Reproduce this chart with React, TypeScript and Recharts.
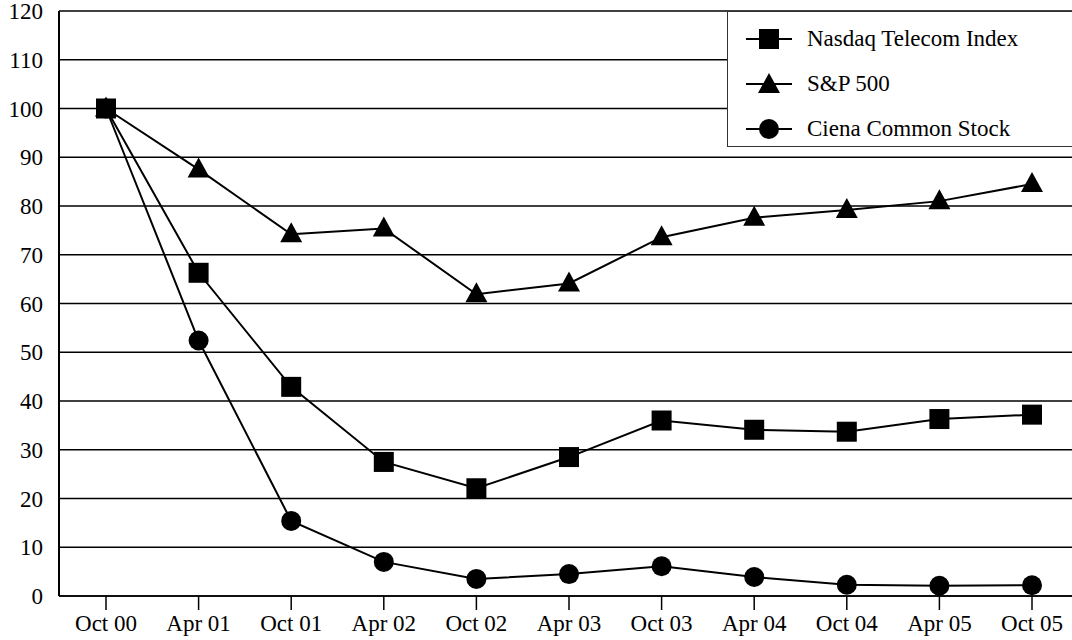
import React from 'react';
import { LineChart, Line, XAxis, YAxis, CartesianGrid } from 'recharts';

const periods = ['Oct 00', 'Apr 01', 'Oct 01', 'Apr 02', 'Oct 02', 'Apr 03', 'Oct 03', 'Apr 04', 'Oct 04', 'Apr 05', 'Oct 05'];
const nasdaq = [100, 66.3, 42.9, 27.5, 22.1, 28.5, 36.0, 34.1, 33.7, 36.3, 37.2];
const sp500 = [100, 87.5, 74.2, 75.4, 61.9, 64.1, 73.6, 77.6, 79.2, 81.0, 84.5];
const ciena = [100, 52.4, 15.4, 7.0, 3.5, 4.5, 6.1, 3.9, 2.3, 2.1, 2.2];
const yTicks = [0, 10, 20, 30, 40, 50, 60, 70, 80, 90, 100, 110, 120];

const data = periods.map((p, i) => ({ period: p, nasdaq: nasdaq[i], sp500: sp500[i], ciena: ciena[i] }));

const FONT = 'Liberation Serif';

const SquareDot = (props: any) => {
  const { cx, cy, index } = props;
  if (cx == null || cy == null) return null;
  return <rect key={`sq-${index}`} x={cx - 10} y={cy - 10} width={20} height={20} fill="#000" />;
};

const TriangleDot = (props: any) => {
  const { cx, cy, index } = props;
  if (cx == null || cy == null) return null;
  return <polygon key={`tr-${index}`} points={`${cx},${cy - 12} ${cx + 11},${cy + 8} ${cx - 11},${cy + 8}`} fill="#000" />;
};

const CircleDot = (props: any) => {
  const { cx, cy, index } = props;
  if (cx == null || cy == null) return null;
  return <circle key={`ci-${index}`} cx={cx} cy={cy} r={10} fill="#000" />;
};

const legendItems = [
  { name: 'Nasdaq Telecom Index', shape: 'square' },
  { name: 'S&P 500', shape: 'triangle' },
  { name: 'Ciena Common Stock', shape: 'circle' },
];

const LegendIcon = ({ shape }: { shape: string }) => (
  <svg width={46} height={24} style={{ display: 'block' }}>
    <line x1={0} y1={12} x2={46} y2={12} stroke="#000" strokeWidth={2} />
    {shape === 'square' && <rect x={13} y={2} width={20} height={20} fill="#000" />}
    {shape === 'triangle' && <polygon points="23,1 34,21 12,21" fill="#000" />}
    {shape === 'circle' && <circle cx={23} cy={12} r={10} fill="#000" />}
  </svg>
);

export default function App() {
  return (
    <div style={{ position: 'absolute', left: 0, top: 0, width: 1072, height: 640, background: '#fff', overflow: 'hidden', fontFamily: FONT }}>
      <LineChart width={1072} height={640} data={data} margin={{ top: 11, right: 0, left: 0, bottom: 0 }}>
        <CartesianGrid vertical={false} stroke="#000" strokeWidth={1.5} />
        <XAxis
          dataKey="period"
          padding={{ left: 47, right: 40 }}
          height={44}
          tickSize={14}
          tickMargin={5}
          stroke="#000"
          strokeWidth={1.5}
          tick={{ fill: '#000', fontSize: 23, fontFamily: FONT }}
          interval={0}
        />
        <YAxis
          domain={[0, 120]}
          ticks={yTicks}
          width={59}
          tickLine={false}
          tickMargin={10}
          stroke="#000"
          strokeWidth={2}
          tick={{ fill: '#000', fontSize: 23, fontFamily: FONT }}
          interval={0}
        />
        <Line dataKey="nasdaq" stroke="#000" strokeWidth={2} dot={SquareDot} isAnimationActive={false} />
        <Line dataKey="sp500" stroke="#000" strokeWidth={2} dot={TriangleDot} isAnimationActive={false} />
        <Line dataKey="ciena" stroke="#000" strokeWidth={2} dot={CircleDot} isAnimationActive={false} />
      </LineChart>
      <div
        style={{
          position: 'absolute',
          left: 727,
          top: 11,
          width: 360,
          height: 136,
          background: '#fff',
          border: '1.5px solid #333',
          boxSizing: 'border-box',
        }}
      >
        {legendItems.map((item, i) => (
          <div key={item.name} style={{ position: 'absolute', left: 18, top: 15 + i * 45, display: 'flex', alignItems: 'center', height: 24 }}>
            <LegendIcon shape={item.shape} />
            <span style={{ marginLeft: 15, fontSize: 23, color: '#000', whiteSpace: 'nowrap', lineHeight: '24px' }}>{item.name}</span>
          </div>
        ))}
      </div>
    </div>
  );
}
